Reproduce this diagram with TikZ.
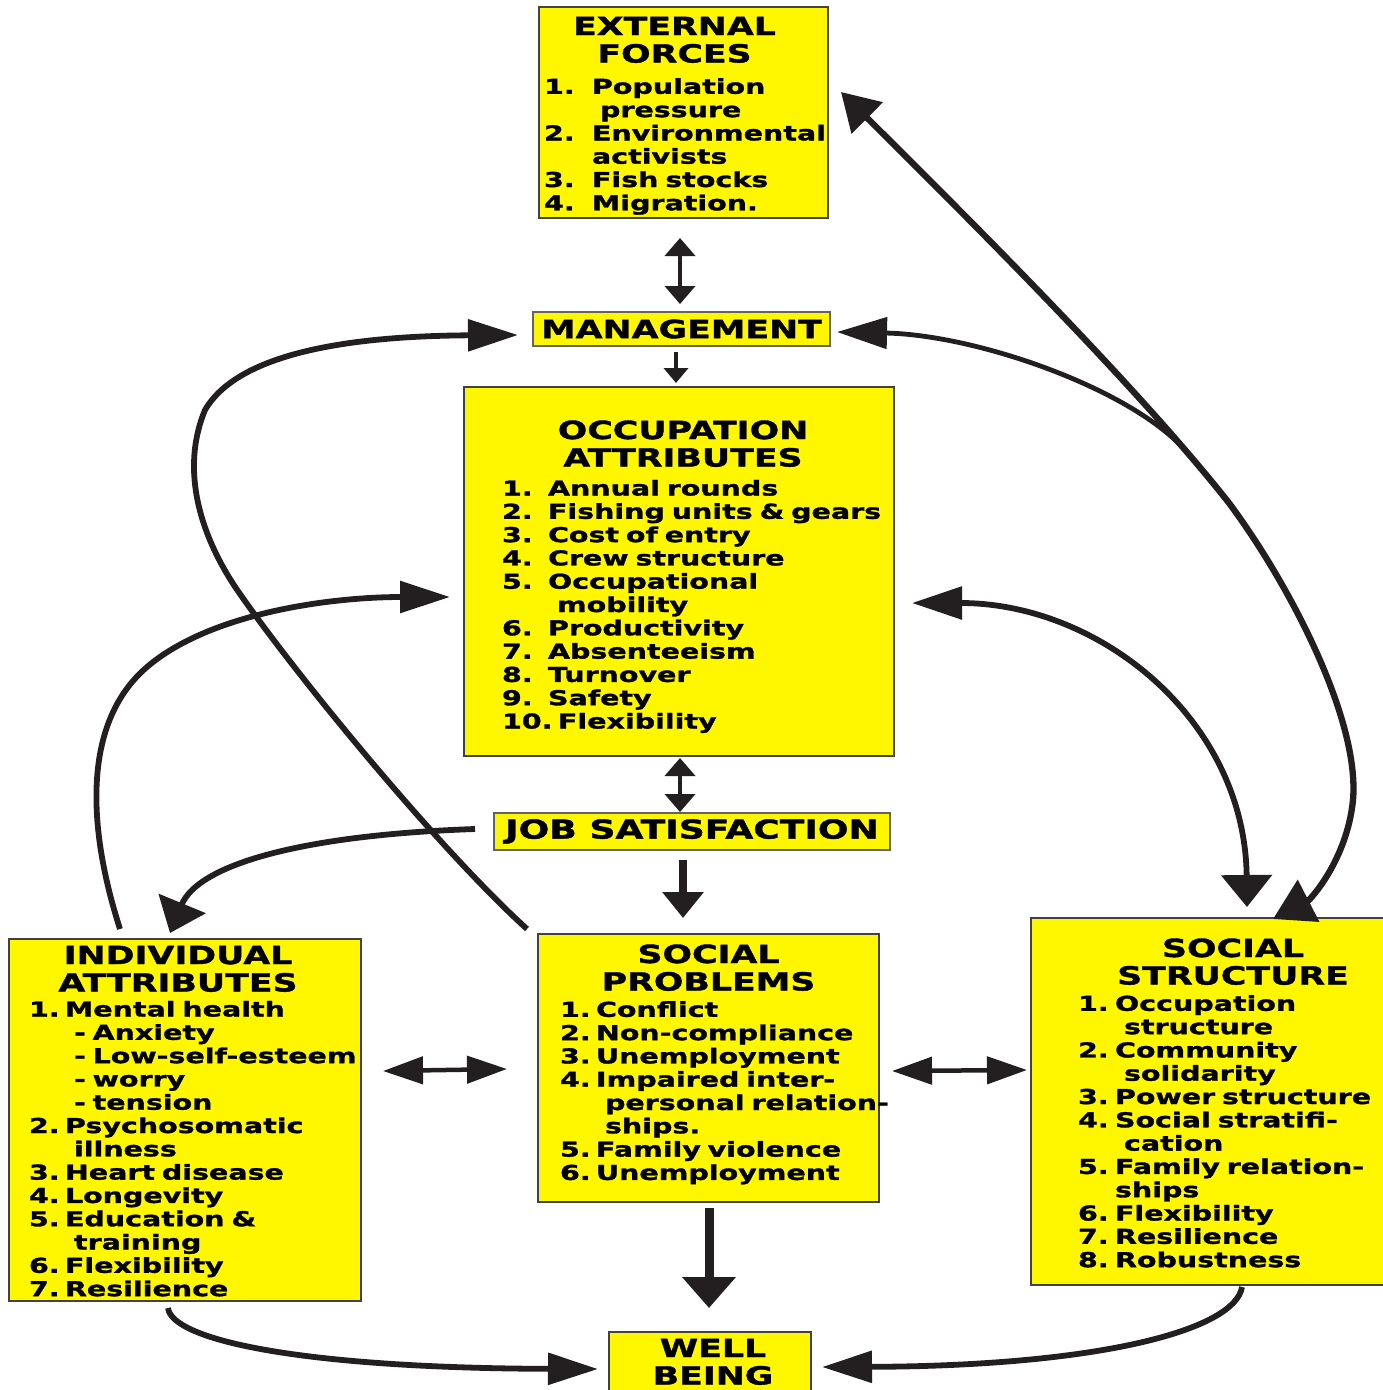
\documentclass[tikz,border=0pt]{standalone}
\usepackage{fontspec}
\newfontfamily\diagfont{DejaVu Sans Bold}[FakeStretch=1.39,FakeBold=1.5]
\usetikzlibrary{arrows.meta}
\definecolor{boxyellow}{HTML}{FFF700}
\definecolor{ink}{HTML}{231F20}
\newlength\numwd
\newcommand\ttl[2][0pt]{{\fontsize{25}{27.5}\selectfont\let\\\par
  \leftskip=#1 plus 1fil\rightskip=0pt plus 1fil\parfillskip=0pt\relax #2\par}}
\newcommand\itm[2]{\mbox{\makebox[\numwd][l]{#1}#2}\par}
\newcommand\cnt[2][\numwd]{\mbox{\hspace*{#1}#2}\par}
\tikzset{box node/.style={draw=ink!85,line width=2pt,fill=boxyellow,anchor=north west,
    inner xsep=0pt,inner ysep=0pt,outer sep=0pt,
    font=\diagfont\fontsize{20.5}{23.3}\selectfont},
  tag node/.style={draw=ink!70,line width=1.5pt,fill=boxyellow,anchor=north west,
    inner sep=0pt,outer sep=0pt,font=\diagfont\fontsize{25}{27.5}\selectfont},
  link/.style={draw=ink,line width=5.8pt},
  long tip/.style={-{Triangle[length=50pt,width=31pt]}},
  wide tip/.style={-{Triangle[length=32pt,width=50pt]}},
  long wide/.style={{Triangle[length=50pt,width=32pt]}-{Triangle[length=32pt,width=50pt]}},
  thin both/.style={draw=ink,line width=4pt,{Triangle[length=18pt,width=30pt]}-{Triangle[length=18pt,width=30pt]}},
  thin one/.style={draw=ink,line width=4pt,-{Triangle[length=15pt,width=24pt]}},
  side both/.style={draw=ink,line width=4.5pt,{Triangle[length=40pt,width=27pt]}-{Triangle[length=40pt,width=27pt]}},
  fat one/.style={draw=ink,line width=8pt,-{Triangle[length=26pt,width=40pt]}},
  fatter one/.style={draw=ink,line width=9pt,-{Triangle[length=31pt,width=52pt]}},
}
\begin{document}
\begin{tikzpicture}[x=1pt,y=-1pt]
	\path[use as bounding box,fill=white] (0,0) rectangle (1383,1390);

	\node[box node,text width=289pt,text height=28pt,text depth=183pt] (ext) at (539,7) {%
		\raggedright\parskip=0pt\leftskip=5pt\numwd=48pt
		\ttl[-18pt]{EXTERNAL\\FORCES}\vspace{8pt}
		\itm{1.}{Population}
		\cnt[56pt]{pressure}
		\itm{2.}{Environmental}
		\cnt{activists}
		\itm{3.}{Fish stocks}
		\itm{4.}{Migration.}};
	\node[tag node,minimum width=297pt,minimum height=34pt] (man) at (533,312) {MANAGEMENT};
	\node[box node,text width=430pt,text height=52pt,text depth=317pt] (occ) at (464,387) {%
		\raggedright\parskip=0pt\leftskip=38pt\numwd=46pt
		\ttl[8pt]{OCCUPATION\\ATTRIBUTES}\vspace{5.7pt}
		\itm{1.}{Annual rounds}
		\itm{2.}{Fishing units \& gears}
		\itm{3.}{Cost of entry}
		\itm{4.}{Crew structure}
		\itm{5.}{Occupational}
		\cnt[55pt]{mobility}
		\itm{6.}{Productivity}
		\itm{7.}{Absenteeism}
		\itm{8.}{Turnover}
		\itm{9.}{Safety}
		{\numwd=56pt\itm{10.}{Flexibility}}};
	\node[tag node,minimum width=396pt,minimum height=37pt,font=\diagfont\fontsize{26}{28}\selectfont] (job) at (494,813) {JOB SATISFACTION};
	\node[box node,text width=352pt,text height=25pt,text depth=337pt] (ind) at (9,939) {%
		\raggedright\parskip=0pt\leftskip=20pt\numwd=36pt
		\ttl[-14pt]{INDIVIDUAL\\ATTRIBUTES}\vspace{1.7pt}
		\itm{1.}{Mental health}
		\cnt[45pt]{- Anxiety}
		\cnt[45pt]{- Low-self-esteem}
		\cnt[45pt]{- worry}
		\cnt[45pt]{- tension}
		\itm{2.}{Psychosomatic}
		\cnt[45pt]{illness}
		\itm{3.}{Heart disease}
		\itm{4.}{Longevity}
		\itm{5.}{Education \&}
		\cnt[45pt]{training}
		\itm{6.}{Flexibility}
		\itm{7.}{Resilience}};
	\node[box node,text width=341pt,text height=29pt,text depth=239pt] (sp) at (538,934) {%
		\raggedright\parskip=0pt\leftskip=22pt\numwd=36pt
		\ttl{SOCIAL\\PROBLEMS}\vspace{3pt}
		\itm{1.}{Conflict}
		\itm{2.}{Non-compliance}
		\itm{3.}{Unemployment}
		\itm{4.}{Impaired inter-}
		\cnt[45pt]{personal relation-}
		\cnt[45pt]{ships.}
		\itm{5.}{Family violence}
		\itm{6.}{Unemployment}};
	\node[box node,text width=355pt,text height=39pt,text depth=328pt] (ss) at (1031,918) {%
		\raggedright\parskip=0pt\leftskip=47pt\numwd=37pt
		\ttl[49pt]{SOCIAL\\STRUCTURE}\vspace{3pt}
		\itm{1.}{Occupation}
		\cnt[46pt]{structure}
		\itm{2.}{Community}
		\cnt[46pt]{solidarity}
		\itm{3.}{Power structure}
		\itm{4.}{Social stratifi-}
		\cnt[46pt]{cation}
		\itm{5.}{Family relation-}
		\cnt{ships}
		\itm{6.}{Flexibility}
		\itm{7.}{Resilience}
		\itm{8.}{Robustness}};
	\node[box node,text width=202pt,text height=25pt,text depth=38pt] (well) at (609,1332) {%
		\parskip=0pt\ttl[6pt]{WELL\\BEING}};

	% straight links
	\draw[thin both] ([shift={(-3.5,20)}]ext.south) -- ([shift={(-1.5,-8)}]man.north);
	\draw[thin one] ([shift={(-5.5,6)}]man.south) -- ([shift={(-3,-4)}]occ.north);
	\draw[thin both] ([shift={(1,2)}]occ.south) -- ([shift={(-12,-1)}]job.north);
	\draw[fat one] ([shift={(-9,10)}]job.south) -- ([shift={(-25.5,-16)}]sp.north);
	\draw[fatter one] ([shift={(0.5,6)}]sp.south) -- ([shift={(-1,-24)}]well.north);
	\draw[side both] ([shift={(22,-49)}]ind.east) -- ([shift={(-31,1)}]sp.west);
	\draw[side both] ([shift={(13,3)}]sp.east) -- ([shift={(-4,-31.5)}]ss.west);

	% curved links
	\draw[link,wide tip] ([shift={(-19,-2.5)}]job.west) .. controls (300,835) and (198,865) .. ([shift={(-15,-6)}]ind.north);
	\draw[link,long tip] ([shift={(-11,-5)}]sp.north west) .. controls (440,850) and (300,680) .. (240,594)
		.. controls (200,537) and (180,470) .. (205,410) .. controls (240,350) and (360,336) .. ([shift={(-15,6)}]man.west);
	\draw[link,long tip] ([shift={(-65,-10)}]ind.north) .. controls (85,820) and (85,720) .. (147,667)
		.. controls (210,613) and (330,597) .. ([shift={(-14,25.5)}]occ.west);
	\draw[link,long wide] ([shift={(18,31.5)}]occ.east) .. controls (1100,603) and (1245,720) .. ([shift={(38.5,-11)}]ss.north);
	\coordinate (fork) at (1190,456);
	\draw[link,line width=6.3pt,{Triangle[length=37pt,width=43pt]}-{Triangle[length=40pt,width=46pt]}]
		([shift={(13,-20.5)}]ext.east) .. controls (980,230) and (1140,390) .. (1229,503)
		.. controls (1290,585) and (1360,720) .. (1353,800) .. controls (1347,860) and (1310,900) .. ([shift={(64.5,1)}]ss.north);
	\draw[link,line width=4.8pt,long tip] (fork) .. controls (1140,392) and (980,335) .. ([shift={(7,3)}]man.east);
	\draw[link,long tip] ([shift={(-17,7)}]ind.south) .. controls (172,1340) and (300,1368) .. ([shift={(-11,5.5)}]well.west);
	\draw[link,long tip] ([shift={(33.5,2)}]ss.south) .. controls (1235,1330) and (1100,1366) .. ([shift={(11,3.5)}]well.east);
\end{tikzpicture}
\end{document}
